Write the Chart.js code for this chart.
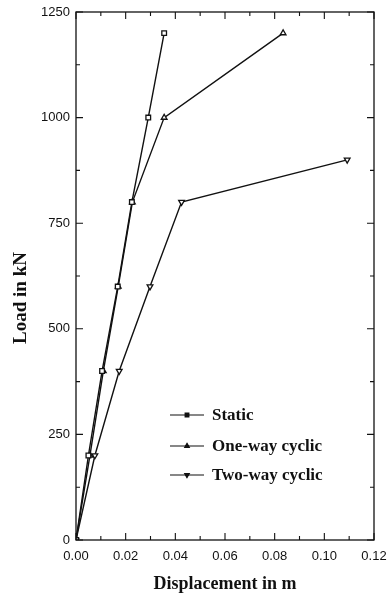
<!DOCTYPE html>
<html>
<head>
<meta charset="utf-8">
<script src="https://cdn.jsdelivr.net/npm/chart.js@4.4.1/dist/chart.umd.min.js"></script>
<style>
  html, body { margin: 0; padding: 0; background: #fff; }
  #wrap { width: 390px; height: 601px; position: relative; }
</style>
</head>
<body>
<div id="wrap"><canvas id="grafico"></canvas></div>
<script>
// displacement (m) vs load (kN)
const staticX = [0, 0.0050, 0.0105, 0.0168, 0.0225, 0.0291, 0.0355];
const staticY = [0, 200, 400, 600, 800, 1000, 1200];
const oneWayX = [0, 0.0056, 0.0110, 0.0170, 0.0227, 0.0355, 0.0834];
const oneWayY = [0, 200, 400, 600, 800, 1000, 1200];
const twoWayX = [0, 0.0076, 0.0174, 0.0298, 0.0425, 0.1092];
const twoWayY = [0, 200, 400, 600, 800, 900];
const seriesNames = ['Static', 'One-way cyclic', 'Two-way cyclic'];
const xTicks = [0, 0.02, 0.04, 0.06, 0.08, 0.10, 0.12];
const yTicks = [0, 250, 500, 750, 1000, 1250];
const yTitle = 'Load in kN';

function toPoints(xs, ys) {
    return xs.map((x, i) => ({ x: x, y: ys[i] }));
}

const tinta = '#111';

// frame + inward ticks on all four sides
const marcoPlugin = {
    id: 'marco',
    afterDraw(chart) {
        const ctx = chart.ctx;
        const a = chart.chartArea;
        const sx = chart.scales.x, sy = chart.scales.y;
        ctx.save();
        ctx.strokeStyle = tinta;
        ctx.lineWidth = 1.3;
        ctx.strokeRect(a.left, a.top, a.right - a.left, a.bottom - a.top);
        ctx.lineWidth = 1.1;
        for (let v = 0; v <= 0.1201; v += 0.01) {
            const px = sx.getPixelForValue(v);
            const major = Math.round(v * 100) % 2 === 0;
            const len = major ? 7 : 4;
            ctx.beginPath();
            ctx.moveTo(px, a.bottom); ctx.lineTo(px, a.bottom - len);
            ctx.moveTo(px, a.top); ctx.lineTo(px, a.top + len);
            ctx.stroke();
        }
        for (let v = 0; v <= 1250; v += 125) {
            const py = sy.getPixelForValue(v);
            const len = v % 250 === 0 ? 7 : 4;
            ctx.beginPath();
            ctx.moveTo(a.left, py); ctx.lineTo(a.left + len, py);
            ctx.moveTo(a.right, py); ctx.lineTo(a.right - len, py);
            ctx.stroke();
        }
        // y title, sits a bit below the middle as in the original
        ctx.translate(21, (a.top + a.bottom) / 2 + 22);
        ctx.rotate(-Math.PI / 2);
        ctx.fillStyle = tinta;
        ctx.font = 'bold 19px "Liberation Serif", "Times New Roman", serif';
        ctx.textAlign = 'center';
        ctx.textBaseline = 'middle';
        ctx.fillText(yTitle, 0, 0);
        ctx.restore();
    }
};

// legend drawn inside the plot, lower middle
const leyendaPlugin = {
    id: 'leyenda',
    afterDraw(chart) {
        const ctx = chart.ctx;
        const a = chart.chartArea;
        const x0 = a.left + 94;
        const filas = [a.bottom - 125, a.bottom - 94, a.bottom - 65];
        ctx.save();
        chart.data.datasets.forEach((ds, i) => {
            const y = filas[i];
            ctx.strokeStyle = tinta;
            ctx.lineWidth = 1.2;
            ctx.beginPath();
            ctx.moveTo(x0, y); ctx.lineTo(x0 + 34, y);
            ctx.stroke();
            Chart.helpers.drawPoint(ctx, {
                pointStyle: ds.pointStyle,
                rotation: ds.pointRotation || 0,
                radius: 2.6,
                borderWidth: 1
            }, x0 + 17, y);
            ctx.fillStyle = tinta;
            ctx.fill();
            ctx.font = 'bold 17px "Liberation Serif", "Times New Roman", serif';
            ctx.textBaseline = 'middle';
            ctx.textAlign = 'left';
            ctx.fillText(ds.label, x0 + 42, y + 1);
        });
        ctx.restore();
    }
};

function serie(label, data, estilo, rot) {
    return {
        label: label,
        data: data,
        borderColor: tinta,
        borderWidth: 1.4,
        pointStyle: estilo,
        pointRotation: rot,
        pointRadius: 3.3,
        pointBorderWidth: 1.3,
        pointBorderColor: tinta,
        pointBackgroundColor: '#fff',
        tension: 0,
        fill: false
    };
}

const ctx = document.getElementById('grafico').getContext('2d');
new Chart(ctx, {
    type: 'line',
    data: {
        datasets: [
            serie(seriesNames[0], toPoints(staticX, staticY), 'rect', 0),
            serie(seriesNames[1], toPoints(oneWayX, oneWayY), 'triangle', 0),
            serie(seriesNames[2], toPoints(twoWayX, twoWayY), 'triangle', 180)
        ]
    },
    options: {
        responsive: true,
        maintainAspectRatio: false,
        animation: false,
        layout: { padding: { top: 12, right: 16, left: 11, bottom: 6 } },
        plugins: {
            legend: { display: false },
            tooltip: { enabled: false }
        },
        scales: {
            x: {
                type: 'linear',
                min: 0,
                max: 0.12,
                afterBuildTicks: s => { s.ticks = xTicks.map(v => ({ value: v })); },
                afterFit: s => { s.height = 55; s.paddingLeft = 0; s.paddingRight = 0; },
                grid: { display: false, drawTicks: false },
                border: { display: false },
                ticks: {
                    padding: 9,
                    color: tinta,
                    font: { family: '"Liberation Sans Narrow", "Liberation Sans", sans-serif', size: 13 },
                    callback: v => v.toFixed(2)
                },
                title: {
                    display: true,
                    text: 'Displacement in m',
                    color: tinta,
                    padding: { top: 6, bottom: 0 },
                    font: { family: '"Liberation Serif", "Times New Roman", serif', size: 18, weight: 'bold' }
                }
            },
            y: {
                type: 'linear',
                min: 0,
                max: 1250,
                afterBuildTicks: s => { s.ticks = yTicks.map(v => ({ value: v })); },
                afterFit: s => { s.width = 65; s.paddingTop = 0; s.paddingBottom = 0; },
                grid: { display: false, drawTicks: false },
                border: { display: false },
                ticks: {
                    padding: 6,
                    color: tinta,
                    font: { family: '"Liberation Sans Narrow", "Liberation Sans", sans-serif', size: 13 },
                    callback: v => String(v)
                },
                title: { display: false }
            }
        }
    },
    plugins: [marcoPlugin, leyendaPlugin]
});
</script>
</body>
</html>
